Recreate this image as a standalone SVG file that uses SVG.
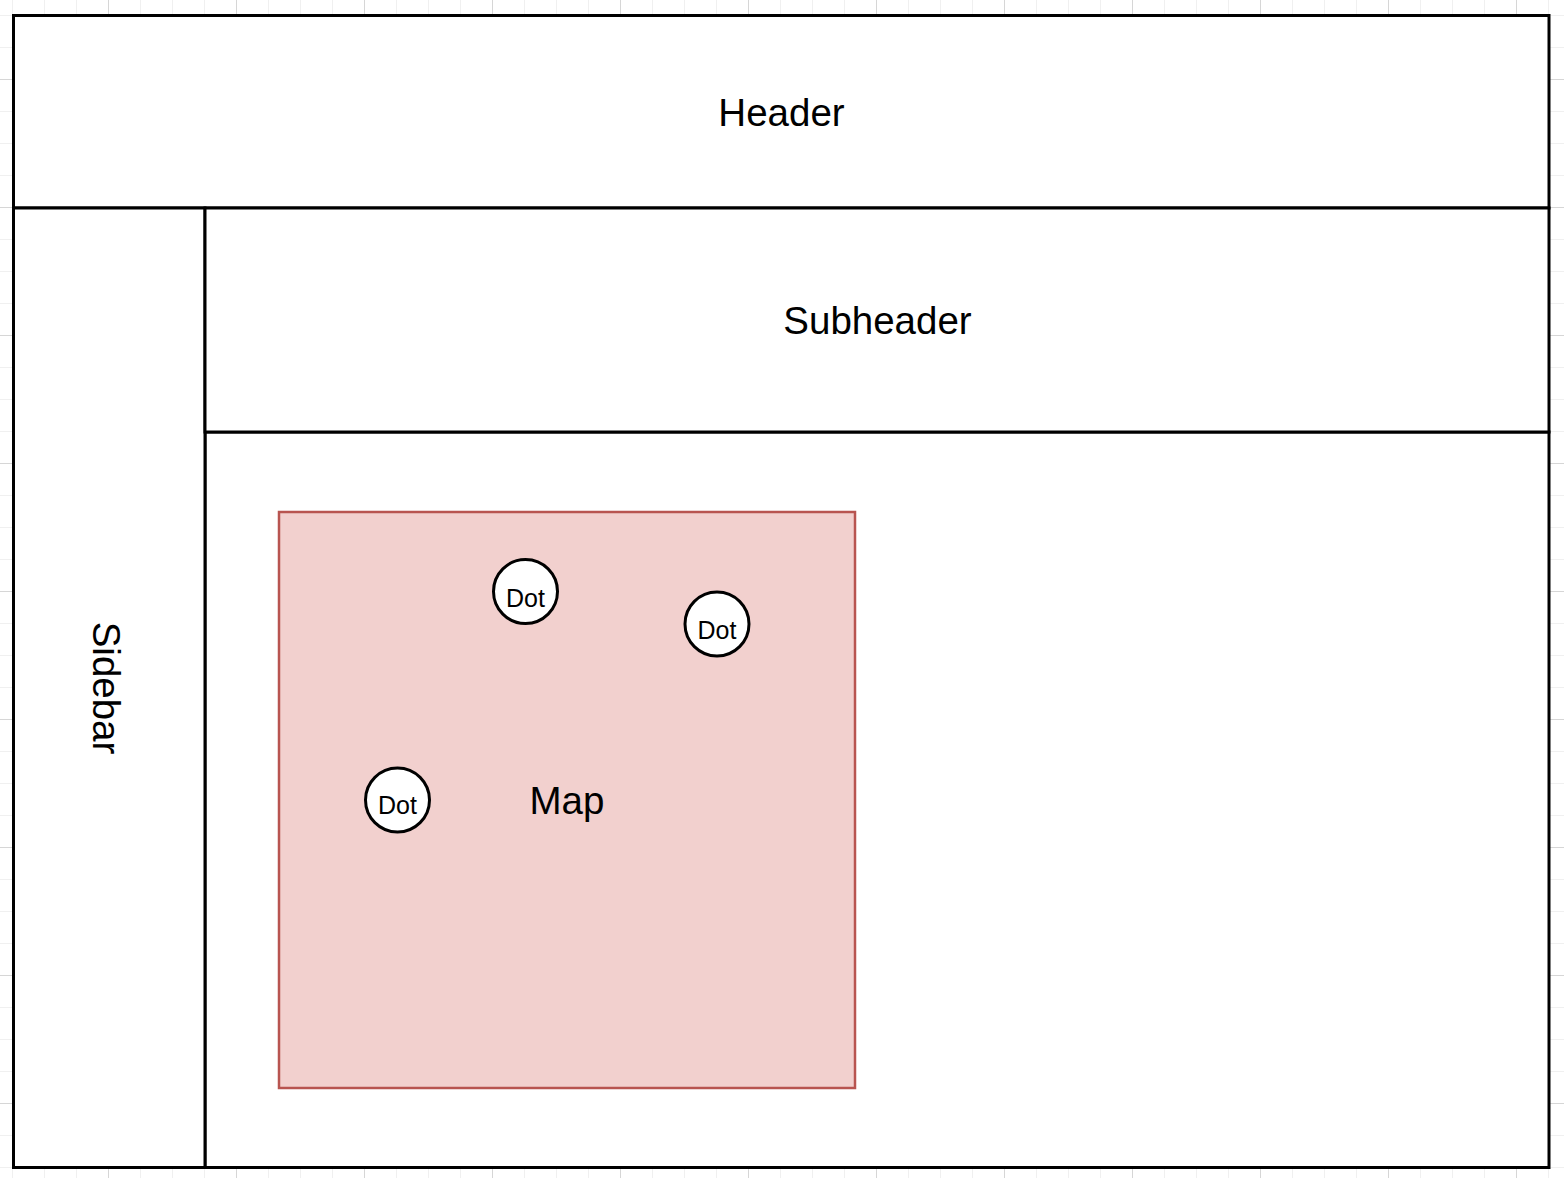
<svg xmlns="http://www.w3.org/2000/svg" width="1564" height="1178" viewBox="0 0 1564 1178">
  <style>
    .frame { fill: #ffffff; stroke: #000000; stroke-width: 3; }
    .map { fill: #f2d0ce; stroke: #b85450; stroke-width: 2.5; }
    .dot { fill: #ffffff; stroke: #000000; stroke-width: 3; }
    .lbl { font-family: "Liberation Sans", Arial, Helvetica, sans-serif; font-size: 38.5px; fill: #000000; text-anchor: middle; }
    .dotlbl { font-family: "Liberation Sans", Arial, Helvetica, sans-serif; font-size: 25px; fill: #000000; text-anchor: middle; }
  </style>
  <defs>
    <pattern id="grid" patternUnits="userSpaceOnUse" x="-20" y="-49" width="128" height="128">
      <g stroke="#f0f0f0" stroke-width="1">
        <line x1="32.5" y1="0" x2="32.5" y2="128"/>
        <line x1="64.5" y1="0" x2="64.5" y2="128"/>
        <line x1="96.5" y1="0" x2="96.5" y2="128"/>
        <line x1="0" y1="32.5" x2="128" y2="32.5"/>
        <line x1="0" y1="64.5" x2="128" y2="64.5"/>
        <line x1="0" y1="96.5" x2="128" y2="96.5"/>
      </g>
      <g stroke="#d6d6d6" stroke-width="1">
        <line x1="0.5" y1="0" x2="0.5" y2="128"/>
        <line x1="0" y1="0.5" x2="128" y2="0.5"/>
      </g>
    </pattern>
  </defs>
  <rect x="0" y="0" width="1564" height="1178" fill="#ffffff"/>
  <rect x="0" y="0" width="1564" height="1178" fill="url(#grid)"/>

  <g id="content">
    <rect class="frame" x="205" y="432" width="1344" height="735.5"/>
  </g>
  <g id="header">
    <rect class="frame" x="13.5" y="15.5" width="1535.5" height="192.5"/>
    <text class="lbl" x="781.5" y="125.5">Header</text>
  </g>
  <g id="sidebar">
    <rect class="frame" x="13.5" y="208" width="191.5" height="959.5"/>
    <text class="lbl" transform="translate(93,688) rotate(90)" x="0" y="0">Sidebar</text>
  </g>
  <g id="subheader">
    <rect class="frame" x="205" y="208" width="1344" height="224"/>
    <text class="lbl" x="877.5" y="333.5">Subheader</text>
  </g>
  <g id="map">
    <rect class="map" x="279" y="512" width="576" height="576"/>
    <text class="lbl" x="567" y="813.5">Map</text>
  </g>
  <g id="dot1">
    <circle class="dot" cx="525.5" cy="591.5" r="32"/>
    <text class="dotlbl" x="525.5" y="607">Dot</text>
  </g>
  <g id="dot2">
    <circle class="dot" cx="717" cy="624" r="32"/>
    <text class="dotlbl" x="717" y="639">Dot</text>
  </g>
  <g id="dot3">
    <circle class="dot" cx="397.5" cy="800" r="32"/>
    <text class="dotlbl" x="397.5" y="814">Dot</text>
  </g>
  <g id="connectors"></g>
</svg>
